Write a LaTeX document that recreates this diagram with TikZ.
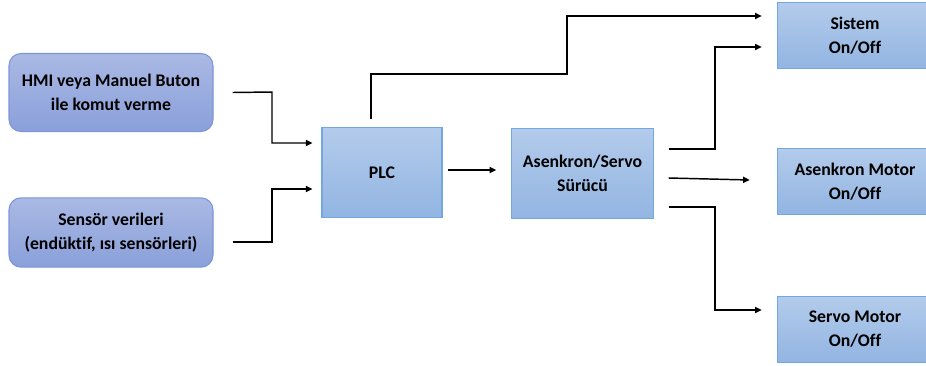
\documentclass[tikz,border=0pt]{standalone}
\usepackage{fontspec}
\setmainfont{Carlito}[Ligatures=NoCommon]
\usetikzlibrary{arrows.meta,calc,backgrounds}
\definecolor{boxtop}{HTML}{B3CBEB}
\definecolor{boxbot}{HTML}{92B5E2}
\definecolor{boxline}{HTML}{74A6E2}
\definecolor{inptop}{HTML}{AAB9E4}
\definecolor{inpbot}{HTML}{8AA0DA}
\definecolor{inpline}{HTML}{7C95DA}
\tikzset{x=0.75pt, y=-0.75pt,
    every node/.style={align=center, font=\bfseries\fontsize{13.3}{18}\selectfont},
    blok/.style={draw=boxline, line width=0.8pt, top color=boxtop, bottom color=boxbot, inner sep=0pt},
    giris/.style={draw=inpline, line width=0.8pt, top color=inptop, bottom color=inpbot,
        rounded corners=9pt, minimum width=153pt, inner sep=0pt},
    cikis/.style={minimum width=115.5pt, minimum height=49pt, inner sep=0pt},
    ok/.style={line width=1.1pt, -{Triangle[length=5pt,width=4.6pt]}},
    }

\begin{document}
\begin{tikzpicture}
	\useasboundingbox (0,0) rectangle (926,365);
	% girisler
	\node[giris, minimum height=58.5pt] (hmi) at (111,92.5) {HMI veya Manuel Buton\\ile komut verme};
	\node[giris, minimum height=52pt] (sensor) at (111,232.5) {Sensör verileri\\(endüktif, ısı sensörleri)};
	% kontrol
	\node[blok, minimum width=90pt, minimum height=67pt] (plc) at (382,172.5) {PLC};
	\node[blok, minimum width=106pt, minimum height=68pt] (surucu) at (582.5,173.5) {Asenkron/Servo\\Sürücü};
	% cikislar (sag kenarda kesik)
	\node[cikis] (sistem) at (855,35.5) {Sistem\\On/Off};
	\node[cikis] (asmotor) at (855,181.5) {Asenkron Motor\\On/Off};
	\node[cikis] (servo) at (855,329.5) {Servo Motor\\On/Off};
	\begin{scope}[on background layer]
		\foreach \k in {sistem,asmotor,servo}{
			\fill[top color=boxtop, bottom color=boxbot] (\k.north west) rectangle (926,0 |- \k.south);
			\draw[boxline, line width=0.8pt] (926,0 |- \k.north) -- (\k.north west) -- (\k.south west) -- (926,0 |- \k.south);
		}
	\end{scope}
	% serbest uclar
	\coordinate (hmiout) at ($(hmi.east)+(19,0)$);
	\coordinate (sensout) at ($(sensor.east)+(19,9.5)$);
	\coordinate (plcup) at ($(plc.north)+(-11,-8)$);
	\coordinate (plcout) at ($(plc.east)+(5,-2.5)$);
	\coordinate (s1) at ($(surucu.east)+(15,-24.5)$);
	\coordinate (s2) at ($(surucu.east)+(15,4.5)$);
	\coordinate (s3) at ($(surucu.east)+(15,33.5)$);
	% baglantilar
	\draw[ok] (hmiout) -- (272,92) |- ($(plc.west)+(-9,-29.5)$);
	\draw[ok] (sensout) -- (272,242) |- ($(plc.west)+(-9,16.5)$);
	\draw[ok] (plcup) |- (567,74) |- ($(sistem.west)+(-16,-19.5)$);
	\draw[ok] (plcout) -- ($(surucu.west)+(-15,-3.5)$);
	\draw[ok] (s1) -| (715,47) -- ($(sistem.west)+(-16,11.5)$);
	\draw[ok] (s2) -- ($(asmotor.west)+(-28,-1.5)$);
	\draw[ok] (s3) -| (715,310) -- ($(servo.west)+(-16,-19.5)$);
\end{tikzpicture}
\end{document}
